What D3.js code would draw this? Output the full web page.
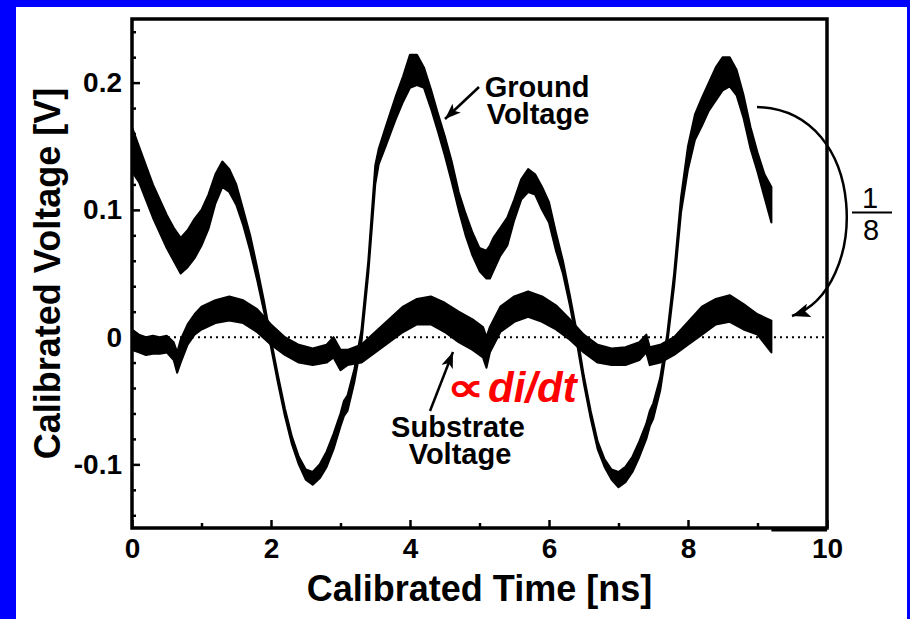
<!DOCTYPE html>
<html>
<head>
<meta charset="utf-8">
<script src="https://cdn.jsdelivr.net/npm/d3@7"></script>
<style>
  html, body { margin: 0; padding: 0; background: #0000ff; }
  svg { display: block; }
  text { font-family: "Liberation Sans", Arial, Helvetica, sans-serif; }
</style>
</head>
<body>
<svg id="chart" width="910" height="619"></svg>
<script>
// ---------- data ----------
const time = [0.00,0.10,0.20,0.30,0.40,0.50,0.60,0.70,0.80,0.90,1.00,1.10,1.20,1.30,1.40,1.50,1.60,1.70,1.80,1.90,
  2.00,2.10,2.20,2.30,2.40,2.50,2.60,2.70,2.80,2.90,3.00,3.05,3.10,3.20,3.30,3.40,3.50,3.55,3.65,3.80,3.90,
  4.00,4.10,4.20,4.30,4.40,4.50,4.60,4.70,4.80,4.90,5.00,5.10,5.15,5.20,5.30,5.40,5.50,5.60,5.70,5.80,5.90,
  6.00,6.10,6.20,6.30,6.40,6.50,6.60,6.70,6.80,6.90,7.00,7.10,7.20,7.30,7.40,7.45,7.50,7.60,7.70,7.80,7.90,
  8.00,8.10,8.20,8.30,8.40,8.50,8.60,8.70,8.80,8.90,9.00,9.10,9.20];
const groundUpper = [0.165,0.150,0.135,0.120,0.108,0.096,0.086,0.078,0.084,0.093,0.100,0.112,0.128,0.138,0.132,0.120,0.100,0.080,0.055,0.028,
  -0.002,-0.030,-0.056,-0.078,-0.094,-0.104,-0.106,-0.100,-0.090,-0.076,-0.060,-0.050,-0.046,-0.025,0.005,0.060,0.135,0.148,0.165,0.190,0.205,
  0.222,0.222,0.212,0.195,0.176,0.158,0.138,0.114,0.097,0.082,0.070,0.068,0.072,0.078,0.086,0.094,0.108,0.124,0.132,0.128,0.118,
  0.106,0.082,0.060,0.033,0.004,-0.030,-0.058,-0.082,-0.096,-0.104,-0.106,-0.102,-0.094,-0.082,-0.068,-0.058,-0.052,-0.032,0.002,0.050,0.110,
  0.150,0.175,0.188,0.200,0.212,0.220,0.220,0.210,0.190,0.165,0.145,0.128,0.118];
const groundLower = [0.130,0.122,0.108,0.094,0.082,0.070,0.060,0.050,0.055,0.062,0.072,0.085,0.105,0.118,0.114,0.104,0.088,0.068,0.045,0.020,
  -0.008,-0.036,-0.062,-0.084,-0.100,-0.112,-0.116,-0.111,-0.102,-0.088,-0.070,-0.062,-0.058,-0.035,-0.005,0.050,0.120,0.136,0.150,0.172,0.185,
  0.196,0.198,0.196,0.180,0.162,0.143,0.122,0.100,0.080,0.064,0.052,0.046,0.046,0.052,0.064,0.072,0.092,0.108,0.114,0.112,0.100,
  0.090,0.068,0.050,0.025,-0.004,-0.036,-0.064,-0.088,-0.102,-0.112,-0.118,-0.114,-0.106,-0.094,-0.080,-0.070,-0.064,-0.042,-0.006,0.040,0.098,
  0.132,0.155,0.166,0.178,0.186,0.194,0.197,0.190,0.172,0.148,0.130,0.110,0.090];

const subTime = [0.00,0.10,0.20,0.30,0.40,0.50,0.60,0.65,0.70,0.80,0.90,1.00,1.20,1.40,1.60,1.80,2.00,2.20,2.40,2.60,2.80,2.90,3.00,3.10,3.30,
  3.50,3.70,3.90,4.10,4.30,4.50,4.70,4.90,5.05,5.10,5.15,5.30,5.50,5.70,5.90,6.10,6.30,6.50,6.70,6.90,7.10,7.30,7.40,7.45,7.60,7.80,
  8.00,8.20,8.40,8.60,8.80,9.00,9.20];
const substrateUpper = [0.006,0.002,0.000,0.001,0.000,0.001,-0.004,-0.012,-0.002,0.010,0.018,0.024,0.029,0.032,0.029,0.022,0.010,0.000,-0.006,-0.009,-0.006,0.000,-0.010,-0.010,-0.006,
  0.004,0.014,0.024,0.030,0.032,0.027,0.020,0.014,0.008,0.000,0.008,0.024,0.032,0.036,0.032,0.025,0.014,0.002,-0.006,-0.009,-0.008,-0.004,0.002,-0.008,-0.006,0.000,
  0.012,0.024,0.030,0.033,0.026,0.018,0.013];
const substrateLower = [-0.010,-0.012,-0.014,-0.013,-0.013,-0.012,-0.018,-0.028,-0.020,-0.006,0.002,0.006,0.011,0.013,0.011,0.004,-0.006,-0.014,-0.020,-0.022,-0.020,-0.016,-0.026,-0.022,-0.020,
  -0.012,-0.004,0.004,0.010,0.010,0.004,-0.004,-0.010,-0.016,-0.024,-0.012,0.004,0.012,0.016,0.012,0.006,-0.002,-0.012,-0.020,-0.022,-0.022,-0.018,-0.012,-0.022,-0.020,-0.014,
  -0.006,0.002,0.010,0.012,0.006,0.002,-0.012];

const xTicks = [0,2,4,6,8,10];
const xTickLabels = ["0","2","4","6","8","10"];
const xMinorTicks = [1,3,5,7,9];
const yTicks = [-0.1,0,0.1,0.2];
const yTickLabels = ["-0.1","0","0.1","0.2"];
const yMinorTicks = [-0.14,-0.12,-0.08,-0.06,-0.04,-0.02,0.02,0.04,0.06,0.08,0.12,0.14,0.16,0.18,0.22,0.24];

const xTitle = "Calibrated Time [ns]";
const yTitle = "Calibrated Voltage [V]";

// ---------- layout ----------
const svg = d3.select("#chart");
const W = 910, H = 619;
const pLeft = 132, pRight = 827, pTop = 19, pBottom = 528;

svg.append("rect").attr("x",0).attr("y",0).attr("width",W).attr("height",H).attr("fill","#0000ff");
svg.append("rect").attr("x",16).attr("y",7).attr("width",891).attr("height",H-7).attr("fill","#ffffff");

const x = d3.scaleLinear().domain([0,10]).range([pLeft,pRight]);
const y = d3.scaleLinear().domain([-0.15,0.25]).range([pBottom,pTop]);

const defs = svg.append("defs");
defs.append("clipPath").attr("id","plotclip")
  .append("rect").attr("x",pLeft).attr("y",pTop).attr("width",pRight-pLeft).attr("height",pBottom-pTop);

// zero dotted line
svg.append("line")
  .attr("x1", x(0)).attr("x2", x(10)).attr("y1", y(0)).attr("y2", y(0))
  .attr("stroke","#000").attr("stroke-width",2).attr("stroke-dasharray","2,4");

const plot = svg.append("g").attr("clip-path","url(#plotclip)");

const gData = time.map((t,i)=>({t, hi: groundUpper[i], lo: groundLower[i]}));
const sData = subTime.map((t,i)=>({t, hi: substrateUpper[i], lo: substrateLower[i]}));

const area = d3.area().x(d=>x(d.t)).y0(d=>y(d.lo)).y1(d=>y(d.hi));

plot.append("path").datum(sData).attr("d",area)
  .attr("fill","#000").attr("stroke","#000").attr("stroke-width",2).attr("stroke-linejoin","round");
plot.append("path").datum(gData).attr("d",area)
  .attr("fill","#000").attr("stroke","#000").attr("stroke-width",2).attr("stroke-linejoin","round");

// ---------- axes ----------
const fontFam = '"Liberation Sans", Arial, sans-serif';
const xAxis = d3.axisBottom(x).tickValues(xTicks).tickSizeInner(-8).tickSizeOuter(0).tickPadding(10)
  .tickFormat((d,i)=>xTickLabels[i]);
const gx = svg.append("g").attr("transform",`translate(0,${pBottom})`).call(xAxis);
gx.select(".domain").remove();
gx.selectAll(".tick line").attr("stroke","#000").attr("stroke-width",2.5);
gx.selectAll(".tick text").attr("font-size",28).attr("font-weight","bold").attr("fill","#000")
  .attr("font-family",fontFam);

const xMinorAxis = d3.axisBottom(x).tickValues(xMinorTicks).tickSizeInner(-5).tickSizeOuter(0).tickFormat("");
const gxm = svg.append("g").attr("transform",`translate(0,${pBottom})`).call(xMinorAxis);
gxm.select(".domain").remove();
gxm.selectAll(".tick line").attr("stroke","#000").attr("stroke-width",2.5);

const yAxis = d3.axisLeft(y).tickValues(yTicks).tickSizeInner(-8).tickSizeOuter(0).tickPadding(10)
  .tickFormat((d,i)=>yTickLabels[i]);
const gy = svg.append("g").attr("transform",`translate(${pLeft},0)`).call(yAxis);
gy.select(".domain").remove();
gy.selectAll(".tick line").attr("stroke","#000").attr("stroke-width",2.5);
gy.selectAll(".tick text").attr("font-size",28).attr("font-weight","bold").attr("fill","#000")
  .attr("font-family",fontFam);

const yMinorAxis = d3.axisLeft(y).tickValues(yMinorTicks).tickSizeInner(-4).tickSizeOuter(0).tickFormat("");
const gym = svg.append("g").attr("transform",`translate(${pLeft},0)`).call(yMinorAxis);
gym.select(".domain").remove();
gym.selectAll(".tick line").attr("stroke","#000").attr("stroke-width",2.5);

// frame
svg.append("rect").attr("x",pLeft).attr("y",pTop).attr("width",pRight-pLeft).attr("height",pBottom-pTop)
  .attr("fill","none").attr("stroke","#000").attr("stroke-width",3.5);
// thicker bit under the axis at the right end
svg.append("line").attr("x1",x(9.2)).attr("x2",x(10)).attr("y1",pBottom+1.5).attr("y2",pBottom+1.5)
  .attr("stroke","#000").attr("stroke-width",4);

// titles
svg.append("text").attr("x",(pLeft+pRight)/2).attr("y",601).attr("text-anchor","middle")
  .attr("font-size",36).attr("font-weight","bold").attr("fill","#000").text(xTitle);
svg.append("text").attr("transform",`translate(60,${(pTop+pBottom)/2}) rotate(-90)`).attr("text-anchor","middle")
  .attr("font-size",36).attr("font-weight","bold").attr("fill","#000").text(yTitle);

// ---------- annotations ----------
defs.append("marker").attr("id","arrowhead").attr("markerUnits","userSpaceOnUse")
  .attr("markerWidth",18).attr("markerHeight",12).attr("refX",16).attr("refY",6).attr("orient","auto")
  .append("path").attr("d","M0,0 L16,6 L0,12 L4,6 Z").attr("fill","#000");
defs.append("marker").attr("id","arrowheadBig").attr("markerUnits","userSpaceOnUse")
  .attr("markerWidth",20).attr("markerHeight",14).attr("refX",18).attr("refY",7).attr("orient","auto")
  .append("path").attr("d","M0,0 L18,7 L0,14 L4,7 Z").attr("fill","#000");

function twoLine(cx, y1, lines, dx2) {
  const t = svg.append("text").attr("text-anchor","middle")
    .attr("font-size",29).attr("font-weight","bold").attr("fill","#000");
  t.append("tspan").attr("x",cx).attr("y",y1).text(lines[0]);
  t.append("tspan").attr("x",cx+dx2).attr("dy",27).text(lines[1]);
}

// Ground Voltage label
twoLine(537, 97, ["Ground","Voltage"], 1);
svg.append("line").attr("x1",479).attr("y1",87).attr("x2",445).attr("y2",119)
  .attr("stroke","#000").attr("stroke-width",2.5).attr("marker-end","url(#arrowhead)");

// Substrate Voltage label
twoLine(458, 437, ["Substrate","Voltage"], 2);
svg.append("line").attr("x1",430).attr("y1",411).attr("x2",453).attr("y2",352)
  .attr("stroke","#000").attr("stroke-width",2.5).attr("marker-end","url(#arrowhead)");

// red ∝ di/dt
svg.append("text").attr("transform","translate(447,401) scale(1.3,1)").attr("fill","#ff0000")
  .attr("font-size",40).attr("font-weight","bold")
  .attr("font-family",'"DejaVu Sans", sans-serif').text("∝");
svg.append("text").attr("x",488).attr("y",402).attr("fill","#ff0000")
  .attr("font-size",42).attr("font-weight","bold").attr("font-style","italic").text("di/dt");

// curved arrow and 1/8
svg.append("path").attr("d","M757,107 C870,110 870,290 792,316")
  .attr("fill","none").attr("stroke","#000").attr("stroke-width",2.5).attr("marker-end","url(#arrowheadBig)");
svg.append("text").attr("x",870).attr("y",208).attr("text-anchor","middle")
  .attr("font-size",29).attr("fill","#000").text("1");
svg.append("line").attr("x1",852).attr("x2",892).attr("y1",212.5).attr("y2",212.5)
  .attr("stroke","#000").attr("stroke-width",2);
svg.append("text").attr("x",871).attr("y",240).attr("text-anchor","middle")
  .attr("font-size",29).attr("fill","#000").text("8");
</script>
</body>
</html>
